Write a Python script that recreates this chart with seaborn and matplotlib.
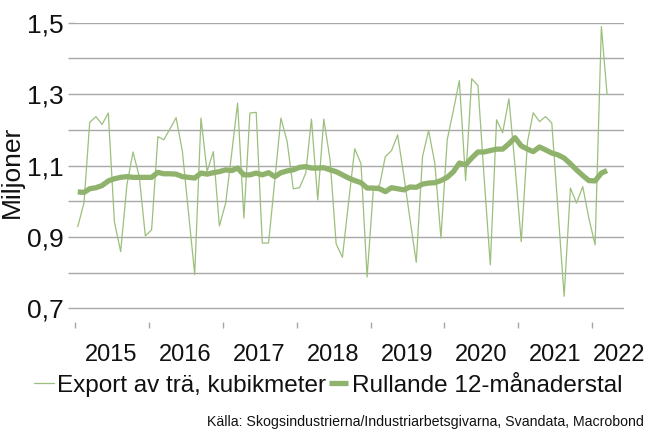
import pandas as pd
import numpy as np
import matplotlib
matplotlib.use("Agg")
import matplotlib.pyplot as plt
import seaborn as sns

# --- data (miljoner kubikmeter, monthly Jan 2015 - Mar 2022) ---
start_month = "2015-01-01"
export_tra = [
    0.929, 0.996, 1.221, 1.237, 1.215, 1.247, 0.943, 0.859, 1.046, 1.138, 1.069, 0.903,  # 2015
    0.920, 1.181, 1.172, 1.203, 1.234, 1.140, 0.970, 0.795, 1.233, 1.083, 1.139, 0.931,  # 2016
    0.995, 1.140, 1.275, 0.953, 1.247, 1.249, 0.883, 0.883, 1.060, 1.233, 1.167, 1.035,  # 2017
    1.038, 1.079, 1.230, 1.004, 1.230, 1.116, 0.881, 0.843, 1.000, 1.147, 1.105, 0.788,  # 2018
    1.035, 1.046, 1.125, 1.142, 1.186, 1.070, 0.950, 0.829, 1.125, 1.198, 1.106, 0.897,  # 2019
    1.172, 1.256, 1.338, 1.058, 1.343, 1.324, 1.070, 0.822, 1.228, 1.192, 1.287, 1.100,  # 2020
    0.887, 1.167, 1.248, 1.223, 1.237, 1.219, 0.980, 0.734, 1.037, 0.995, 1.041, 0.953,  # 2021
    0.878, 1.489, 1.300,                                                                  # 2022
]
rullande_12 = [
    1.026, 1.025, 1.035, 1.038, 1.044, 1.057, 1.063, 1.067, 1.069, 1.067, 1.067, 1.067,
    1.067, 1.081, 1.077, 1.077, 1.076, 1.069, 1.067, 1.065, 1.079, 1.076, 1.080, 1.083,
    1.088, 1.086, 1.093, 1.074, 1.074, 1.079, 1.074, 1.080, 1.069, 1.080, 1.085, 1.088,
    1.095, 1.097, 1.093, 1.093, 1.094, 1.088, 1.083, 1.074, 1.065, 1.058, 1.052, 1.037,
    1.037, 1.035, 1.027, 1.038, 1.035, 1.032, 1.040, 1.039, 1.048, 1.051, 1.052, 1.058,
    1.067, 1.083, 1.107, 1.102, 1.121, 1.138, 1.138, 1.142, 1.146, 1.146, 1.161, 1.178,
    1.155, 1.146, 1.139, 1.152, 1.144, 1.135, 1.130, 1.121, 1.105, 1.088, 1.072, 1.058,
    1.057, 1.079, 1.086,
]
years = [2015, 2016, 2017, 2018, 2019, 2020, 2021, 2022]
y_ticks = [0.7, 0.8, 0.9, 1.0, 1.1, 1.2, 1.3, 1.4, 1.5]
y_labels = ["0,7", "", "0,9", "", "1,1", "", "1,3", "", "1,5"]

# month points sit in the middle of each month, like a category axis
months = pd.date_range(start_month, periods=len(export_tra), freq="MS") + pd.Timedelta(days=14)
df = pd.DataFrame({"manad": months, "export": export_tra, "rullande": rullande_12})

sns.set_style("white")
plt.rcParams["font.family"] = ["Liberation Sans", "DejaVu Sans"]
plt.rcParams["text.color"] = "#111111"
plt.rcParams["xtick.color"] = "#111111"
plt.rcParams["ytick.color"] = "#111111"
plt.rcParams["axes.labelcolor"] = "#111111"

thin_col = "#9cbf7c"
thick_col = "#8fb36c"
grid_col = "#a8a8a8"

fig, ax = plt.subplots(figsize=(6.46, 4.32), dpi=100)
fig.subplots_adjust(left=0.116, right=0.966, bottom=0.2546, top=0.9475)

sns.lineplot(data=df, x="manad", y="export", ax=ax, color=thin_col, lw=0.9,
             label="Export av trä, kubikmeter")
sns.lineplot(data=df, x="manad", y="rullande", ax=ax, color=thick_col, lw=3.8,
             label="Rullande 12-månaderstal", solid_capstyle="butt")

ax.set_ylim(0.662, 1.5)
ax.set_yticks(y_ticks)
ax.set_yticklabels(y_labels, fontsize=19)
ax.grid(axis="y", color=grid_col, lw=1.0)
ax.set_axisbelow(True)

ax.set_xlim(pd.Timestamp("2015-01-01"), pd.Timestamp("2022-06-07"))
ax.set_xticks([pd.Timestamp(f"{y}-01-01") for y in years])
ax.set_xticklabels([])
label_pos = [pd.Timestamp(f"{y}-07-01") for y in years[:-1]] + [pd.Timestamp("2022-05-15")]
ax.set_xticks(label_pos, minor=True)
ax.set_xticklabels([str(y) for y in years], minor=True, fontsize=17)
ax.tick_params(axis="x", which="major", bottom=True, length=4, color=grid_col, width=1)
ax.tick_params(axis="x", which="minor", bottom=True, length=0, pad=16)
ax.tick_params(axis="y", left=True, length=5, color=grid_col, width=1, pad=3)

for s in ax.spines.values():
    s.set_visible(False)

ax.set_xlabel("")
ax.set_ylabel("Miljoner", fontsize=19, labelpad=2)

ax.get_legend().remove()
h, l = ax.get_legend_handles_labels()
fig.legend(h, l, loc="center", bbox_to_anchor=(0.508, 0.107), ncol=2, frameon=False,
           fontsize=17.5, handlelength=0.8, handletextpad=0.15, columnspacing=0.1)

fig.text(0.997, 0.023, "Källa: Skogsindustrierna/Industriarbetsgivarna, Svandata, Macrobond",
         ha="right", va="center", fontsize=10.2)

plt.savefig("out.png", dpi=100)
